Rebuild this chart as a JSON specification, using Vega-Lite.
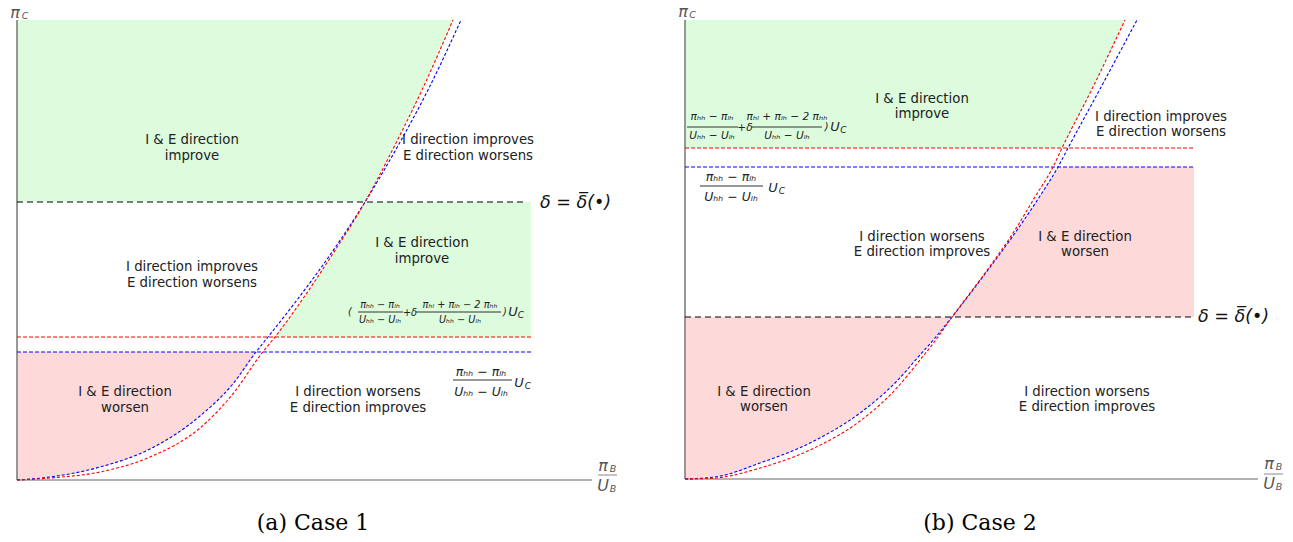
{
 "$schema": "https://vega.github.io/schema/vega-lite/v6.json",
 "padding": 0,
 "spacing": 0,
 "background": "white",
 "config": {"view": {"stroke": null}},
 "datasets": {
  "curves": [
   {"p":"a","c":"blue","x":0,"y":0},{"p":"a","c":"blue","x":0.33,"y":0.03},{"p":"a","c":"blue","x":0.83,"y":0.13},{"p":"a","c":"blue","x":1.33,"y":0.31},{"p":"a","c":"blue","x":1.83,"y":0.64},{"p":"a","c":"blue","x":2.15,"y":0.95},{"p":"a","c":"blue","x":2.39,"y":1.28},{"p":"a","c":"blue","x":2.51,"y":1.43},{"p":"a","c":"blue","x":2.80,"y":1.80},{"p":"a","c":"blue","x":3.13,"y":2.25},{"p":"a","c":"blue","x":3.48,"y":2.78},{"p":"a","c":"blue","x":3.82,"y":3.36},{"p":"a","c":"blue","x":4.11,"y":3.90},{"p":"a","c":"blue","x":4.44,"y":4.60},
   {"p":"a","c":"red","x":0,"y":0},{"p":"a","c":"red","x":0.33,"y":0.02},{"p":"a","c":"red","x":0.83,"y":0.08},{"p":"a","c":"red","x":1.33,"y":0.23},{"p":"a","c":"red","x":1.83,"y":0.52},{"p":"a","c":"red","x":2.15,"y":0.85},{"p":"a","c":"red","x":2.45,"y":1.27},{"p":"a","c":"red","x":2.58,"y":1.43},{"p":"a","c":"red","x":2.85,"y":1.80},{"p":"a","c":"red","x":3.15,"y":2.25},{"p":"a","c":"red","x":3.48,"y":2.78},{"p":"a","c":"red","x":3.78,"y":3.35},{"p":"a","c":"red","x":4.05,"y":3.90},{"p":"a","c":"red","x":4.36,"y":4.60},
   {"p":"b","c":"blue","x":0,"y":0},{"p":"b","c":"blue","x":0.30,"y":0.02},{"p":"b","c":"blue","x":0.75,"y":0.16},{"p":"b","c":"blue","x":1.25,"y":0.36},{"p":"b","c":"blue","x":1.75,"y":0.66},{"p":"b","c":"blue","x":2.10,"y":0.96},{"p":"b","c":"blue","x":2.35,"y":1.24},{"p":"b","c":"blue","x":2.50,"y":1.41},{"p":"b","c":"blue","x":2.67,"y":1.62},{"p":"b","c":"blue","x":3.00,"y":2.05},{"p":"b","c":"blue","x":3.30,"y":2.46},{"p":"b","c":"blue","x":3.55,"y":2.83},{"p":"b","c":"blue","x":3.73,"y":3.12},{"p":"b","c":"blue","x":3.83,"y":3.31},{"p":"b","c":"blue","x":4.15,"y":3.90},{"p":"b","c":"blue","x":4.52,"y":4.59},
   {"p":"b","c":"red","x":0,"y":0},{"p":"b","c":"red","x":0.30,"y":0.01},{"p":"b","c":"red","x":0.75,"y":0.11},{"p":"b","c":"red","x":1.25,"y":0.29},{"p":"b","c":"red","x":1.75,"y":0.58},{"p":"b","c":"red","x":2.10,"y":0.89},{"p":"b","c":"red","x":2.35,"y":1.19},{"p":"b","c":"red","x":2.50,"y":1.38},{"p":"b","c":"red","x":2.67,"y":1.62},{"p":"b","c":"red","x":3.00,"y":2.06},{"p":"b","c":"red","x":3.30,"y":2.49},{"p":"b","c":"red","x":3.50,"y":2.82},{"p":"b","c":"red","x":3.68,"y":3.12},{"p":"b","c":"red","x":3.77,"y":3.31},{"p":"b","c":"red","x":4.08,"y":3.92},{"p":"b","c":"red","x":4.40,"y":4.59}
  ],
  "hl": [
   {"p":"a","c":"black","x":0,"x2":5.10,"y":2.78},
   {"p":"a","c":"red","x":0,"x2":5.14,"y":1.43},
   {"p":"a","c":"blue","x":0,"x2":5.14,"y":1.28},
   {"p":"a","c":"axis","x":0,"x2":5.75,"y":0},
   {"p":"a","c":"frac","x":3.41,"x2":3.86,"y":1.68},
   {"p":"a","c":"frac","x":3.99,"x2":4.84,"y":1.68},
   {"p":"a","c":"frac","x":4.36,"x2":4.95,"y":1.00},
   {"p":"a","c":"axfrac","x":5.81,"x2":6.00,"y":0.05},
   {"p":"b","c":"red","x":0,"x2":5.09,"y":3.31},
   {"p":"b","c":"blue","x":0,"x2":5.09,"y":3.12},
   {"p":"b","c":"black","x":0,"x2":5.09,"y":1.62},
   {"p":"b","c":"axis","x":0,"x2":5.73,"y":0},
   {"p":"b","c":"frac","x":0.02,"x2":0.53,"y":3.52},
   {"p":"b","c":"frac","x":0.67,"x2":1.37,"y":3.52},
   {"p":"b","c":"frac","x":0.15,"x2":0.78,"y":2.93},
   {"p":"b","c":"axfrac","x":5.79,"x2":5.98,"y":0.05}
  ],
  "vl": [
   {"p":"a","x":0,"y":0,"y2":4.60},
   {"p":"b","x":0,"y":0,"y2":4.59}
  ],
  "txt": [
   {"p":"a","k":"lab","x":1.75,"y":3.40,"t":"I & E direction\nimprove"},
   {"p":"a","k":"lab","x":4.51,"y":3.40,"t":"I direction improves\nE direction worsens"},
   {"p":"a","k":"lab","x":4.05,"y":2.37,"t":"I & E direction\nimprove"},
   {"p":"a","k":"lab","x":1.75,"y":2.13,"t":"I direction improves\nE direction worsens"},
   {"p":"a","k":"lab","x":1.08,"y":0.88,"t":"I & E direction\nworsen"},
   {"p":"a","k":"lab","x":3.41,"y":0.88,"t":"I direction worsens\nE direction improves"},
   {"p":"a","k":"f1a","x":3.33,"y":1.68,"t":"("},
   {"p":"a","k":"f1a","x":3.63,"y":1.75,"t":"πₕₕ − πₗₕ"},
   {"p":"a","k":"f1a","x":3.63,"y":1.60,"t":"Uₕₕ − Uₗₕ"},
   {"p":"a","k":"f1a","x":3.93,"y":1.67,"t":"+δ"},
   {"p":"a","k":"f1a","x":4.43,"y":1.75,"t":"πₕₗ + πₗₕ − 2 πₕₕ"},
   {"p":"a","k":"f1a","x":4.43,"y":1.60,"t":"Uₕₕ − Uₗₕ"},
   {"p":"a","k":"f1a","x":4.88,"y":1.68,"t":")"},
   {"p":"a","k":"u","x":4.96,"y":1.68,"t":"U"},
   {"p":"a","k":"us","x":5.04,"y":1.65,"t":"C"},
   {"p":"a","k":"f2","x":4.64,"y":1.08,"t":"πₕₕ − πₗₕ"},
   {"p":"a","k":"f2","x":4.64,"y":0.88,"t":"Uₕₕ − Uₗₕ"},
   {"p":"a","k":"u","x":5.02,"y":0.97,"t":"U"},
   {"p":"a","k":"us","x":5.11,"y":0.94,"t":"C"},
   {"p":"a","k":"delta","x":5.23,"y":2.77,"t":"δ = δ\u0305(•)"},
   {"p":"a","k":"ax","x":-0.02,"y":4.67,"t":"π"},
   {"p":"a","k":"axs","x":0.08,"y":4.64,"t":"C"},
   {"p":"a","k":"ax","x":5.86,"y":0.14,"t":"π"},
   {"p":"a","k":"axs","x":5.96,"y":0.11,"t":"B"},
   {"p":"a","k":"ax","x":5.86,"y":-0.06,"t":"U"},
   {"p":"a","k":"axs","x":5.96,"y":-0.09,"t":"B"},
   {"p":"a","k":"cap","x":2.96,"y":-0.43,"t":"(a) Case 1"},
   {"p":"b","k":"lab","x":2.37,"y":3.80,"t":"I & E direction\nimprove"},
   {"p":"b","k":"lab","x":4.76,"y":3.62,"t":"I direction improves\nE direction worsens"},
   {"p":"b","k":"lab","x":2.37,"y":2.42,"t":"I direction worsens\nE direction improves"},
   {"p":"b","k":"lab","x":4.00,"y":2.42,"t":"I & E direction\nworsen"},
   {"p":"b","k":"lab","x":0.79,"y":0.87,"t":"I & E direction\nworsen"},
   {"p":"b","k":"lab","x":4.02,"y":0.87,"t":"I direction worsens\nE direction improves"},
   {"p":"b","k":"f1b","x":0.27,"y":3.62,"t":"πₕₕ − πₗₕ"},
   {"p":"b","k":"f1b","x":0.27,"y":3.43,"t":"Uₕₕ − Uₗₕ"},
   {"p":"b","k":"f1b","x":0.60,"y":3.51,"t":"+δ"},
   {"p":"b","k":"f1b","x":1.02,"y":3.62,"t":"πₕₗ + πₗₕ − 2 πₕₕ"},
   {"p":"b","k":"f1b","x":1.02,"y":3.43,"t":"Uₕₕ − Uₗₕ"},
   {"p":"b","k":"f1b","x":1.415,"y":3.52,"t":")"},
   {"p":"b","k":"u","x":1.50,"y":3.52,"t":"U"},
   {"p":"b","k":"us","x":1.585,"y":3.49,"t":"C"},
   {"p":"b","k":"f2","x":0.46,"y":3.02,"t":"πₕₕ − πₗₕ"},
   {"p":"b","k":"f2","x":0.46,"y":2.82,"t":"Uₕₕ − Uₗₕ"},
   {"p":"b","k":"u","x":0.88,"y":2.91,"t":"U"},
   {"p":"b","k":"us","x":0.97,"y":2.88,"t":"C"},
   {"p":"b","k":"delta","x":5.13,"y":1.62,"t":"δ = δ\u0305(•)"},
   {"p":"b","k":"ax","x":-0.02,"y":4.67,"t":"π"},
   {"p":"b","k":"axs","x":0.075,"y":4.64,"t":"C"},
   {"p":"b","k":"ax","x":5.84,"y":0.15,"t":"π"},
   {"p":"b","k":"axs","x":5.94,"y":0.12,"t":"B"},
   {"p":"b","k":"ax","x":5.84,"y":-0.05,"t":"U"},
   {"p":"b","k":"axs","x":5.94,"y":-0.08,"t":"B"},
   {"p":"b","k":"cap","x":2.95,"y":-0.44,"t":"(b) Case 2"}
  ]
 },
 "hconcat": [
  {
   "width": 646, "height": 542,
   "encoding": {
    "x": {"field":"x","type":"quantitative","scale":{"domain":[-0.17,6.29],"nice":false,"zero":false},"axis":null},
    "y": {"field":"y","type":"quantitative","scale":{"domain":[-0.62,4.80],"nice":false,"zero":false},"axis":null}
   },
   "layer": [
    {"data":{"name":"curves"},"transform":[{"filter":"datum.p=='a' && datum.c=='red' && datum.y>=2.78"}],"mark":{"type":"area","orient":"horizontal","color":"#ddfcdd","interpolate":"monotone"},"encoding":{"x":{"datum":0},"x2":{"field":"x"}}},
    {"data":{"name":"curves"},"transform":[{"filter":"datum.p=='a' && datum.c=='red' && datum.y>=1.43 && datum.y<=2.78"}],"mark":{"type":"area","orient":"horizontal","color":"#ddfcdd","interpolate":"monotone"},"encoding":{"x2":{"datum":5.14}}},
    {"data":{"name":"curves"},"transform":[{"filter":"datum.p=='a' && datum.c=='blue' && datum.y<=1.28"}],"mark":{"type":"area","orient":"horizontal","color":"#fdd9d9","interpolate":"monotone"},"encoding":{"x":{"datum":0},"x2":{"field":"x"}}},
    {"data":{"name":"hl"},"transform":[{"filter":"datum.p=='a' && datum.c=='axis'"}],"mark":{"type":"rule","color":"#999999","strokeWidth":1.5},"encoding":{"x2":{"field":"x2"}}},
    {"data":{"name":"vl"},"transform":[{"filter":"datum.p=='a'"}],"mark":{"type":"rule","color":"#777777","strokeWidth":1.5},"encoding":{"y2":{"field":"y2"}}},
    {"data":{"name":"hl"},"transform":[{"filter":"datum.p=='a' && datum.c=='black'"}],"mark":{"type":"rule","color":"#000000","strokeWidth":1,"strokeDash":[6,4]},"encoding":{"x2":{"field":"x2"}}},
    {"data":{"name":"hl"},"transform":[{"filter":"datum.p=='a' && datum.c=='red'"}],"mark":{"type":"rule","color":"#ff0000","strokeWidth":1,"strokeDash":[4,2]},"encoding":{"x2":{"field":"x2"}}},
    {"data":{"name":"hl"},"transform":[{"filter":"datum.p=='a' && datum.c=='blue'"}],"mark":{"type":"rule","color":"#0000ff","strokeWidth":1,"strokeDash":[4,2]},"encoding":{"x2":{"field":"x2"}}},
    {"data":{"name":"hl"},"transform":[{"filter":"datum.p=='a' && datum.c=='frac'"}],"mark":{"type":"rule","color":"#333333","strokeWidth":1},"encoding":{"x2":{"field":"x2"}}},
    {"data":{"name":"hl"},"transform":[{"filter":"datum.p=='a' && datum.c=='axfrac'"}],"mark":{"type":"rule","color":"#888888","strokeWidth":1},"encoding":{"x2":{"field":"x2"}}},
    {"data":{"name":"curves"},"transform":[{"filter":"datum.p=='a' && datum.c=='blue'"}],"mark":{"type":"line","color":"#0000ff","strokeWidth":1.1,"strokeDash":[3,2],"interpolate":"monotone"},"encoding":{}},
    {"data":{"name":"curves"},"transform":[{"filter":"datum.p=='a' && datum.c=='red'"}],"mark":{"type":"line","color":"#ff0000","strokeWidth":1.1,"strokeDash":[3,2],"interpolate":"monotone"},"encoding":{}},
    {"data":{"name":"txt"},"transform":[{"filter":"datum.p=='a' && datum.k=='lab'"}],"mark":{"type":"text","font":"DejaVu Sans","fontSize":13.3,"color":"#222222","align":"center","baseline":"middle","lineBreak":"\n","lineHeight":16},"encoding":{"text":{"field":"t"}}},
    {"data":{"name":"txt"},"transform":[{"filter":"datum.p=='a' && datum.k=='f1a'"}],"mark":{"type":"text","font":"DejaVu Sans","fontSize":9.8,"fontStyle":"italic","color":"#222222","align":"center","baseline":"middle"},"encoding":{"text":{"field":"t"}}},
    {"data":{"name":"txt"},"transform":[{"filter":"datum.p=='a' && datum.k=='f2'"}],"mark":{"type":"text","font":"DejaVu Sans","fontSize":12.5,"fontStyle":"italic","color":"#222222","align":"center","baseline":"middle"},"encoding":{"text":{"field":"t"}}},
    {"data":{"name":"txt"},"transform":[{"filter":"datum.p=='a' && datum.k=='u'"}],"mark":{"type":"text","font":"DejaVu Sans","fontSize":13,"fontStyle":"italic","color":"#222222","align":"center","baseline":"middle"},"encoding":{"text":{"field":"t"}}},
    {"data":{"name":"txt"},"transform":[{"filter":"datum.p=='a' && datum.k=='us'"}],"mark":{"type":"text","font":"DejaVu Sans","fontSize":9,"fontStyle":"italic","color":"#222222","align":"center","baseline":"middle"},"encoding":{"text":{"field":"t"}}},
    {"data":{"name":"txt"},"transform":[{"filter":"datum.p=='a' && datum.k=='delta'"}],"mark":{"type":"text","font":"DejaVu Sans","fontSize":17.5,"fontStyle":"italic","color":"#111111","align":"left","baseline":"middle"},"encoding":{"text":{"field":"t"}}},
    {"data":{"name":"txt"},"transform":[{"filter":"datum.p=='a' && datum.k=='ax'"}],"mark":{"type":"text","font":"DejaVu Sans","fontSize":16,"fontStyle":"italic","color":"#555555","align":"center","baseline":"middle"},"encoding":{"text":{"field":"t"}}},
    {"data":{"name":"txt"},"transform":[{"filter":"datum.p=='a' && datum.k=='axs'"}],"mark":{"type":"text","font":"DejaVu Sans","fontSize":9.5,"fontStyle":"italic","color":"#555555","align":"center","baseline":"middle"},"encoding":{"text":{"field":"t"}}},
    {"data":{"name":"txt"},"transform":[{"filter":"datum.p=='a' && datum.k=='cap'"}],"mark":{"type":"text","font":"DejaVu Serif","fontSize":22,"color":"#000000","align":"center","baseline":"middle"},"encoding":{"text":{"field":"t"}}}
   ]
  },
  {
   "width": 647, "height": 542,
   "encoding": {
    "x": {"field":"x","type":"quantitative","scale":{"domain":[-0.39,6.08],"nice":false,"zero":false},"axis":null},
    "y": {"field":"y","type":"quantitative","scale":{"domain":[-0.63,4.79],"nice":false,"zero":false},"axis":null}
   },
   "layer": [
    {"data":{"name":"curves"},"transform":[{"filter":"datum.p=='b' && datum.c=='red' && datum.y>=3.31"}],"mark":{"type":"area","orient":"horizontal","color":"#ddfcdd","interpolate":"monotone"},"encoding":{"x":{"datum":0},"x2":{"field":"x"}}},
    {"data":{"name":"curves"},"transform":[{"filter":"datum.p=='b' && datum.c=='blue' && datum.y>=1.62 && datum.y<=3.12"}],"mark":{"type":"area","orient":"horizontal","color":"#fdd9d9","interpolate":"monotone"},"encoding":{"x2":{"datum":5.09}}},
    {"data":{"name":"curves"},"transform":[{"filter":"datum.p=='b' && datum.c=='blue' && datum.y<=1.62"}],"mark":{"type":"area","orient":"horizontal","color":"#fdd9d9","interpolate":"monotone"},"encoding":{"x":{"datum":0},"x2":{"field":"x"}}},
    {"data":{"name":"hl"},"transform":[{"filter":"datum.p=='b' && datum.c=='axis'"}],"mark":{"type":"rule","color":"#999999","strokeWidth":1.5},"encoding":{"x2":{"field":"x2"}}},
    {"data":{"name":"vl"},"transform":[{"filter":"datum.p=='b'"}],"mark":{"type":"rule","color":"#777777","strokeWidth":1.5},"encoding":{"y2":{"field":"y2"}}},
    {"data":{"name":"hl"},"transform":[{"filter":"datum.p=='b' && datum.c=='black'"}],"mark":{"type":"rule","color":"#000000","strokeWidth":1,"strokeDash":[6,4]},"encoding":{"x2":{"field":"x2"}}},
    {"data":{"name":"hl"},"transform":[{"filter":"datum.p=='b' && datum.c=='red'"}],"mark":{"type":"rule","color":"#ff0000","strokeWidth":1,"strokeDash":[4,2]},"encoding":{"x2":{"field":"x2"}}},
    {"data":{"name":"hl"},"transform":[{"filter":"datum.p=='b' && datum.c=='blue'"}],"mark":{"type":"rule","color":"#0000ff","strokeWidth":1,"strokeDash":[4,2]},"encoding":{"x2":{"field":"x2"}}},
    {"data":{"name":"hl"},"transform":[{"filter":"datum.p=='b' && datum.c=='frac'"}],"mark":{"type":"rule","color":"#333333","strokeWidth":1},"encoding":{"x2":{"field":"x2"}}},
    {"data":{"name":"hl"},"transform":[{"filter":"datum.p=='b' && datum.c=='axfrac'"}],"mark":{"type":"rule","color":"#888888","strokeWidth":1},"encoding":{"x2":{"field":"x2"}}},
    {"data":{"name":"curves"},"transform":[{"filter":"datum.p=='b' && datum.c=='blue'"}],"mark":{"type":"line","color":"#0000ff","strokeWidth":1.1,"strokeDash":[3,2],"interpolate":"monotone"},"encoding":{}},
    {"data":{"name":"curves"},"transform":[{"filter":"datum.p=='b' && datum.c=='red'"}],"mark":{"type":"line","color":"#ff0000","strokeWidth":1.1,"strokeDash":[3,2],"interpolate":"monotone"},"encoding":{}},
    {"data":{"name":"txt"},"transform":[{"filter":"datum.p=='b' && datum.k=='lab'"}],"mark":{"type":"text","font":"DejaVu Sans","fontSize":13.3,"color":"#222222","align":"center","baseline":"middle","lineBreak":"\n","lineHeight":15},"encoding":{"text":{"field":"t"}}},
    {"data":{"name":"txt"},"transform":[{"filter":"datum.p=='b' && datum.k=='f1b'"}],"mark":{"type":"text","font":"DejaVu Sans","fontSize":10.6,"fontStyle":"italic","color":"#222222","align":"center","baseline":"middle"},"encoding":{"text":{"field":"t"}}},
    {"data":{"name":"txt"},"transform":[{"filter":"datum.p=='b' && datum.k=='f2'"}],"mark":{"type":"text","font":"DejaVu Sans","fontSize":12.5,"fontStyle":"italic","color":"#222222","align":"center","baseline":"middle"},"encoding":{"text":{"field":"t"}}},
    {"data":{"name":"txt"},"transform":[{"filter":"datum.p=='b' && datum.k=='u'"}],"mark":{"type":"text","font":"DejaVu Sans","fontSize":13,"fontStyle":"italic","color":"#222222","align":"center","baseline":"middle"},"encoding":{"text":{"field":"t"}}},
    {"data":{"name":"txt"},"transform":[{"filter":"datum.p=='b' && datum.k=='us'"}],"mark":{"type":"text","font":"DejaVu Sans","fontSize":9,"fontStyle":"italic","color":"#222222","align":"center","baseline":"middle"},"encoding":{"text":{"field":"t"}}},
    {"data":{"name":"txt"},"transform":[{"filter":"datum.p=='b' && datum.k=='delta'"}],"mark":{"type":"text","font":"DejaVu Sans","fontSize":17.5,"fontStyle":"italic","color":"#111111","align":"left","baseline":"middle"},"encoding":{"text":{"field":"t"}}},
    {"data":{"name":"txt"},"transform":[{"filter":"datum.p=='b' && datum.k=='ax'"}],"mark":{"type":"text","font":"DejaVu Sans","fontSize":16,"fontStyle":"italic","color":"#555555","align":"center","baseline":"middle"},"encoding":{"text":{"field":"t"}}},
    {"data":{"name":"txt"},"transform":[{"filter":"datum.p=='b' && datum.k=='axs'"}],"mark":{"type":"text","font":"DejaVu Sans","fontSize":9.5,"fontStyle":"italic","color":"#555555","align":"center","baseline":"middle"},"encoding":{"text":{"field":"t"}}},
    {"data":{"name":"txt"},"transform":[{"filter":"datum.p=='b' && datum.k=='cap'"}],"mark":{"type":"text","font":"DejaVu Serif","fontSize":22,"color":"#000000","align":"center","baseline":"middle"},"encoding":{"text":{"field":"t"}}}
   ]
  }
 ]
}
